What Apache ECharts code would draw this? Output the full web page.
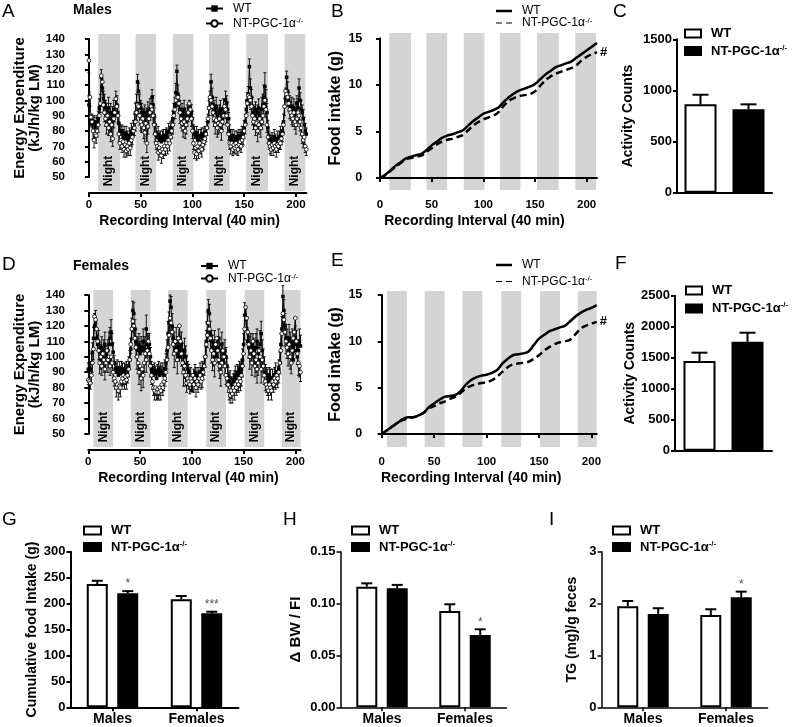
<!DOCTYPE html>
<html><head><meta charset="utf-8">
<script src="https://cdn.jsdelivr.net/npm/echarts@6/dist/echarts.min.js"></script>
<style>html,body{margin:0;padding:0;background:#fff}#c{width:792px;height:727px}</style>
</head><body><div id="c"></div>
<script>
const FONT = "'Liberation Sans', Arial, Helvetica, sans-serif";

// ---------- Panel A (Males energy expenditure), interval 0..210 ----------
const wtM = [97,84,85,87,84,86,82,84,86,88, 95,97,115,108,101,98,95,92,90,95, 88,92,86,90,94,90,101,97,92,85,
 80,78,80,76,79,75,78,76,74,77, 76,80,78,82,86,92,98,112,106,98, 95,92,90,88,92,86,90,93,88,95,
 92,102,97,90,84,78,76,78,74,76, 73,75,77,74,76,78,76,80,79,81, 82,88,92,97,105,119,104,98,94,90,
 92,88,94,90,86,92,89,95,91,92, 88,80,78,76,79,74,77,73,76,78, 75,77,79,78,82,86,95,100,112,102,
 97,94,92,96,90,88,92,94,90,88, 95,92,100,98,94,88,80,76,74,77, 72,75,73,76,74,77,75,76,79,78,
 82,86,94,100,104,122,108,102,96,92, 90,94,88,92,95,90,88,94,97,102, 109,100,92,82,76,74,72,75,73,76,
 74,72,75,73,76,78,77,80,86,96, 102,115,106,100,97,94,96,92,95,90, 93,98,95,108,100,94,92,88,84,80, 78];
const koM = [126,102,89,86,80,74,78,77,80,84, 90,98,116,112,97,92,88,84,90,82, 86,78,84,75,88,92,101,96,90,78,
 72,74,70,73,68,71,67,70,68,72, 69,74,76,80,82,86,92,97,96,90, 86,84,88,82,79,85,72,83,88,92,
 96,94,90,84,78,72,70,66,69,67, 64,68,66,70,68,72,70,74,72,76, 80,84,90,94,100,102,102,98,92,88,
 85,82,86,80,84,88,92,98,94,88, 80,72,66,69,65,70,67,72,69,68, 71,73,75,78,82,88,95,102,100,96,
 92,88,84,87,82,85,88,84,80,86, 90,96,94,90,84,78,72,70,72,68, 71,69,72,70,68,71,73,70,74,76,
 80,84,90,98,103,102,100,96,90,86, 88,82,85,80,84,88,82,86,90,96, 100,94,84,76,72,70,68,71,69,72,
 70,68,71,70,73,72,75,78,84,96, 106,104,102,98,94,92,90,88,92,86, 84,88,92,90,86,82,78,74,76,70, 68];
const errWTm = [6,5,4,4,5,4,4,5,4,5, 6,7,5,6,5,6,5,6,5,7, 5,6,5,6,6,5,5,6,5,5, 4,5,4,5,4,4,5,4,4,5,
 4,5,4,5,5,6,6,5,5,6, 5,6,5,6,5,6,5,6,5,6, 6,5,6,5,5,4,4,5,4,4, 4,5,4,4,5,4,4,5,4,5,
 5,5,6,5,6,4,6,5,6,5, 6,5,6,5,6,5,6,5,6,5, 5,4,5,4,4,5,4,4,5,4, 4,5,4,5,4,5,5,6,5,6,
 5,6,5,6,5,6,5,6,5,6, 6,5,6,5,5,4,4,5,4,4, 4,5,4,4,5,4,4,5,4,5, 5,5,6,5,5,5,6,5,6,5,
 6,5,6,5,6,5,6,8,7,8, 9,7,6,5,4,4,5,4,4,5, 4,4,5,4,4,5,4,5,5,5, 6,4,6,5,6,5,6,5,6,5,
 6,5,6,6,5,6,5,6,5,5, 4];
const errKOm = [8,6,4,4,5,5,4,5,4,5, 6,6,7,6,5,6,5,6,6,5, 6,5,6,5,6,6,5,6,5,5, 4,5,4,4,5,4,4,5,4,4,
 5,4,5,4,5,6,5,6,5,6, 6,5,6,7,6,5,6,5,6,5, 6,5,5,6,5,4,4,5,4,4, 5,4,4,5,4,4,5,4,5,4,
 5,6,5,6,5,6,5,6,7,6, 5,6,7,5,6,5,6,5,6,5, 5,4,4,5,4,4,5,4,4,5, 4,5,4,5,5,6,5,6,5,6,
 6,5,6,5,6,7,6,5,6,5, 6,5,6,5,5,4,4,5,4,4, 5,4,4,5,4,4,5,4,4,5, 5,6,5,6,6,5,6,5,6,5,
 6,5,6,7,6,5,6,5,6,5, 6,5,5,4,4,5,4,4,5,4, 4,5,4,4,5,4,4,5,5,6, 6,5,6,5,6,5,6,5,6,5,
 6,5,6,5,6,5,6,5,5,4, 4];
const nightM = [[9,30],[45,65],[81,101],[116,136],[152,173],[189,209]];

// ---------- Panel D (Females energy expenditure), interval 0..205 ----------
const wtF = [92,91,92,96,103,112,120,122,112,108, 110,103,100,106,98,104,108,100,97,104, 108,112,116,108,103,96,92,90,93,88,
 91,89,92,90,88,91,89,92,88,94, 98,105,118,130,128,118,110,106,104,108, 102,106,104,110,106,104,118,108,106,108,
 100,92,90,88,91,89,86,90,92,88, 91,89,90,88,92,96,104,115,122,136, 132,120,112,108,104,110,106,98,104,100,
 108,102,96,104,100,95,92,90,86,88, 78,82,86,90,88,84,88,86,90,88, 92,90,94,100,110,122,130,128,115,110,
 106,104,108,102,100,106,112,104,98,108, 102,96,104,100,94,88,84,86,82,80, 84,86,88,85,90,88,92,90,92,98,
 108,127,124,118,110,106,104,108,100,106, 104,98,106,110,102,98,108,115,104,98, 94,90,88,86,84,88,86,82,86,84,
 88,90,86,88,92,96,108,118,139,130, 120,112,110,106,112,108,104,110,98,104, 112,108,100,104,110,107];
const koF = [85,84,83,88,96,105,126,124,118,110, 104,96,100,94,102,98,92,96,104,98, 100,94,100,96,90,86,84,80,82,78,
 81,80,84,86,88,84,87,85,88,92, 98,108,118,123,120,112,106,100,96,90, 94,86,92,88,96,102,98,104,110,102,
 94,88,84,80,78,80,77,79,77,80, 78,82,80,84,86,90,98,106,114,125, 122,116,108,102,110,104,98,112,120,110,
 102,96,90,94,88,83,86,84,82,86, 84,88,82,86,80,84,82,86,88,84, 86,90,94,100,108,114,122,118,112,104,
 98,102,96,108,112,104,98,94,90,96, 104,100,94,88,86,82,78,75,78,76, 80,78,82,80,84,82,86,84,88,94,
 102,118,132,125,116,108,100,104,96,110, 102,94,98,92,96,104,100,92,98,94, 88,84,82,80,78,82,80,78,84,82,
 86,84,88,86,90,96,104,115,128,124, 116,110,106,102,108,100,96,104,112,116, 125,110,102,96,94,90];
const errWTf = [4,4,5,6,6,7,8,8,7,6, 7,6,8,7,6,7,8,7,6,7, 8,7,8,7,6,5,5,6,5,5, 6,5,5,6,5,5,6,5,5,6,
 6,7,7,6,7,6,8,7,8,7, 8,7,6,8,7,6,9,7,8,7, 6,5,5,6,5,5,6,5,5,6, 5,5,6,5,6,6,7,8,7,4,
 7,8,7,8,6,9,7,8,9,7, 8,7,9,8,7,6,5,5,6,5, 5,5,6,5,5,6,5,5,6,5, 5,6,6,7,7,7,7,6,8,7,
 8,7,9,7,8,7,6,8,7,8, 7,8,7,6,5,5,6,5,5,6, 5,5,6,5,5,6,5,6,6,7, 7,8,7,8,7,8,9,7,8,9,
 8,7,9,8,7,8,9,8,7,7, 6,5,5,6,5,5,6,5,6,5, 5,6,5,6,6,7,7,8,7,7, 8,9,8,7,9,8,7,8,9,8,
 8,9,8,7,8,7];
const errKOf = [3,3,4,5,6,7,8,7,7,6, 6,7,8,6,7,8,7,6,7,8, 7,6,7,6,6,5,5,6,5,6, 5,6,5,5,6,5,5,6,5,5,
 6,6,7,7,8,7,6,8,7,8, 7,8,7,8,6,7,8,7,9,8, 7,6,5,5,6,5,5,6,5,5, 6,5,5,6,5,6,6,7,7,8,
 7,8,7,9,8,7,9,8,8,7, 8,7,9,8,7,6,5,5,6,5, 5,6,5,5,6,5,5,6,5,5, 6,5,6,7,7,8,7,8,7,8,
 7,8,9,8,7,8,7,8,9,7, 8,7,6,6,5,5,6,5,5,6, 5,6,5,5,6,5,6,6,7,7, 8,7,8,7,8,9,8,7,8,9,
 8,7,8,9,8,7,8,9,8,7, 6,6,5,5,6,5,5,6,5,5, 6,5,6,6,7,7,8,8,7,8, 9,8,7,8,9,8,7,8,9,8,
 9,8,7,8,7,6];
const nightF = [[5,24],[41,60],[77,96],[114,133],[151,170],[187,205]];

// ---------- Panels B / E (cumulative food intake, g) ----------
const intakeXM = [0,5,10,15,20,25,30,35,40,45,50,55,60,65,70,75,80,85,90,95,100,105,110,115,120,125,130,135,140,145,150,155,160,165,170,175,180,185,190,195,200,205,210];
const intakeWTM = [0,0.35,0.8,1.3,1.7,2.1,2.3,2.45,2.6,3.0,3.5,3.9,4.3,4.55,4.7,4.9,5.1,5.6,6.1,6.5,6.9,7.1,7.3,7.6,8.2,8.7,9.1,9.4,9.6,9.8,10.1,10.6,11.1,11.5,11.9,12.1,12.3,12.5,12.9,13.3,13.7,14.1,14.5];
const intakeKOM = [0,0.3,0.75,1.2,1.6,2.0,2.15,2.3,2.4,2.8,3.2,3.6,3.9,4.1,4.2,4.4,4.6,5.1,5.6,6.0,6.3,6.5,6.7,7.1,7.8,8.3,8.6,8.8,8.9,9.0,9.3,9.9,10.5,10.9,11.2,11.4,11.6,11.8,12.1,12.6,13.0,13.3,13.5];
const intakeXF = [0,5,10,15,20,25,30,35,40,45,50,55,60,65,70,75,80,85,90,95,100,105,110,115,120,125,130,135,140,145,150,155,160,165,170,175,180,185,190,195,200,205];
const intakeWTF = [0,0.4,0.8,1.2,1.6,1.8,1.8,2.0,2.3,2.9,3.3,3.7,4.0,4.1,4.2,4.6,5.3,5.8,6.1,6.3,6.4,6.6,6.9,7.6,8.1,8.5,8.6,8.7,8.9,9.6,10.3,10.7,11.1,11.3,11.5,11.7,12.2,12.7,13.1,13.4,13.6,13.9];
const intakeKOF = [0,0.4,0.8,1.2,1.5,1.7,1.8,2.0,2.3,2.8,3.0,3.3,3.5,3.8,4.0,4.4,4.9,5.2,5.35,5.5,5.6,5.8,6.2,6.7,7.2,7.5,7.6,7.7,7.8,8.1,8.5,9.0,9.4,9.7,9.9,10.0,10.2,10.8,11.4,11.7,11.9,12.1];

// ---------- Bar panels ----------
const actMales = {wt:[864], wtErr:[94], ko:[815], koErr:[49]};
const actFemales = {wt:[1447], wtErr:[134], ko:[1758], koErr:[145]};
const sexCats = ['Males', 'Females'];
const foodWT = [237.7, 208.2], foodWTErr = [6.3, 6.4], foodKO = [219.8, 181.2], foodKOErr = [4.2, 3.1], foodSig = ['*', '***'];
const bwWT = [0.1163, 0.0928], bwWTErr = [0.0032, 0.0065], bwKO = [0.1147, 0.0697], bwKOErr = [0.0033, 0.0055], bwSig = ['', '*'];
const tgWT = [1.95, 1.78], tgWTErr = [0.10, 0.11], tgKO = [1.80, 2.12], tgKOErr = [0.11, 0.11], tgSig = ['', '*'];
const timeTicks = [0, 50, 100, 150, 200];

// ---------- helpers ----------
const pairs = (xs, ys) => ys.map((v, i) => [xs ? xs[i] : i, v]);
const errRows = (ys, es) => ys.map((v, i) => [i, v, es[i]]);
const barRows = (ys, es, slot) => ys.map((v, i) => [i, v, es[i], slot]);
const black = '#000';

function bandRender(withLabel) {
  return function (params, api) {
    const p0 = api.coord([api.value(0), 1]);
    const p1 = api.coord([api.value(1), 0]);
    const ch = [{type: 'rect', shape: {x: p0[0], y: p0[1], width: p1[0] - p0[0], height: p1[1] - p0[1]}, style: {fill: '#d4d4d4'}}];
    if (withLabel) ch.push({type: 'text', x: (p0[0] + p1[0]) / 2, y: p1[1] - 20, rotation: Math.PI / 2,
      style: {text: 'Night', textAlign: 'center', textVerticalAlign: 'middle', fontSize: 12, fontWeight: 'bold', fontFamily: FONT, fill: black}});
    return {type: 'group', children: ch};
  };
}
function errRender(dir) {
  return function (params, api) {
    const x = api.value(0), y = api.value(1), e = api.value(2);
    const p0 = api.coord([x, y]), p1 = api.coord([x, y + dir * e]);
    return {type: 'group', children: [
      {type: 'line', shape: {x1: p0[0], y1: p0[1], x2: p1[0], y2: p1[1]}, style: {stroke: black, lineWidth: 0.9}},
      {type: 'line', shape: {x1: p1[0] - 1.5, y1: p1[1], x2: p1[0] + 1.5, y2: p1[1]}, style: {stroke: black, lineWidth: 0.9}}
    ]};
  };
}
function barErrRender(barWidth, barGap, cap, lw, sig) {
  return function (params, api) {
    const cat = api.value(0), y = api.value(1), e = api.value(2), slot = api.value(3);
    const lay = api.barLayout({barWidth: barWidth, barGap: barGap, count: 2});
    const base = api.coord([cat, y]);
    const x = base[0] + lay[slot].offsetCenter;
    const top = api.coord([cat, y + e])[1];
    const ch = [
      {type: 'line', shape: {x1: x, y1: base[1], x2: x, y2: top}, style: {stroke: black, lineWidth: lw}},
      {type: 'line', shape: {x1: x - cap, y1: top, x2: x + cap, y2: top}, style: {stroke: black, lineWidth: lw}}
    ];
    const s = (sig && slot === 1) ? sig[cat] : '';
    if (s) ch.push({type: 'text', x: x, y: top - 1, style: {text: s, textAlign: 'center', textVerticalAlign: 'bottom', fontSize: 12, fontFamily: FONT, fill: '#555'}});
    return {type: 'group', children: ch};
  };
}

function timeX(gridIndex, max, offset, shift) {
  return {type: 'value', gridIndex, min: 0, max, offset,
    axisLine: {show: true, lineStyle: {color: black, width: 2}},
    axisTick: {show: true, length: 4, lineStyle: {color: black, width: 2}, customValues: timeTicks},
    axisLabel: {show: true, color: black, fontFamily: FONT, fontWeight: 'bold', fontSize: 11.5, margin: 6, customValues: timeTicks},
    splitLine: {show: false},
    name: 'Recording Interval (40 min)', nameLocation: 'middle', nameGap: 21,
    nameTextStyle: {color: black, fontFamily: FONT, fontWeight: 'bold', fontSize: 14, padding: [0, shift * 2, 0, 0]}};
}
function hiddenX(gridIndex, max) { return {type: 'value', gridIndex, min: 0, max, show: false}; }
function hiddenY(gridIndex) { return {type: 'value', gridIndex, min: 0, max: 1, show: false}; }
function valY(gridIndex, min, max, interval, offset, fontSize, name, nameGap, nameSize, lw, fmt) {
  return {type: 'value', gridIndex, min, max, interval, offset,
    axisLine: {show: true, lineStyle: {color: black, width: lw}},
    axisTick: {show: true, length: 4, lineStyle: {color: black, width: lw}},
    axisLabel: {show: true, color: black, fontFamily: FONT, fontWeight: 'bold', fontSize, margin: 5, formatter: fmt || (v => String(v))},
    splitLine: {show: false},
    name, nameLocation: 'middle', nameGap,
    nameTextStyle: {color: black, fontFamily: FONT, fontWeight: 'bold', fontSize: nameSize, lineHeight: 15, align: 'center'}};
}
function catX(gridIndex, cats, showLabels, lw) {
  return {type: 'category', gridIndex, data: cats,
    axisLine: {show: true, lineStyle: {color: black, width: lw}},
    axisTick: {show: showLabels, alignWithLabel: true, length: 4, lineStyle: {color: black, width: lw}},
    axisLabel: {show: showLabels, color: black, fontFamily: FONT, fontWeight: 'bold', fontSize: 14, margin: 5},
    splitLine: {show: false}};
}
const legendFmt = n => n.indexOf('WT') === 0 ? 'WT' : 'NT-PGC-1α{s|-/-}';
function mkLegend(data, left, top, bold, lh, gap, w, h) {
  return {show: true, orient: 'vertical', left, top, padding: 0, itemGap: gap, itemWidth: w, itemHeight: h,
    selectedMode: false, data, formatter: legendFmt,
    textStyle: {color: black, fontFamily: FONT, fontSize: bold ? 13 : 12, fontWeight: bold ? 'bold' : 'normal', lineHeight: lh, padding: [0, 0, 0, 5],
      rich: {s: {fontSize: 8, verticalAlign: 'top', lineHeight: 8, fontFamily: FONT, color: black, fontWeight: bold ? 'bold' : 'normal'}}}};
}
const boxLegend = (wt, ko) => [
  {name: wt, icon: 'rect', itemStyle: {color: '#fff', borderColor: black, borderWidth: 2}},
  {name: ko, icon: 'rect', itemStyle: {color: black, borderColor: black, borderWidth: 2}}];
const lineLegend = (wt, ko) => [
  {name: wt, icon: 'rect', itemStyle: {color: black, borderWidth: 0}},
  {name: ko, icon: 'path://M0,0h6v1h-6z M10,0h6v1h-6z', itemStyle: {color: black, borderWidth: 0}}];

function eeSeries(tag, xi, bi, wt, ko, ewt, eko, night) {
  return [
    {type: 'custom', name: 'band' + tag, xAxisIndex: bi, yAxisIndex: bi, data: night, renderItem: bandRender(true), silent: true, z: 0},
    {type: 'custom', name: 'eWT' + tag, xAxisIndex: xi, yAxisIndex: xi, data: errRows(wt, ewt), renderItem: errRender(1), silent: true, z: 3},
    {type: 'custom', name: 'eKO' + tag, xAxisIndex: xi, yAxisIndex: xi, data: errRows(ko, eko), renderItem: errRender(-1), silent: true, z: 3},
    {type: 'line', name: 'WT_' + tag, xAxisIndex: xi, yAxisIndex: xi, data: pairs(null, wt), symbol: 'rect', symbolSize: 3.5,
      lineStyle: {color: black, width: 0.9}, itemStyle: {color: black}, z: 4},
    {type: 'line', name: 'KO_' + tag, xAxisIndex: xi, yAxisIndex: xi, data: pairs(null, ko), symbol: 'circle', symbolSize: 3.8,
      lineStyle: {color: black, width: 0.9}, itemStyle: {color: '#fff', borderColor: black, borderWidth: 0.8}, z: 5}
  ];
}
function intakeSeries(tag, xi, bi, xs, wt, ko, night) {
  return [
    {type: 'custom', name: 'band' + tag, xAxisIndex: bi, yAxisIndex: bi, data: night, renderItem: bandRender(false), silent: true, z: 0},
    {type: 'line', name: 'WT_' + tag, xAxisIndex: xi, yAxisIndex: xi, data: pairs(xs, wt), symbol: 'none', smooth: 0.3,
      lineStyle: {color: black, width: 2.5}, itemStyle: {color: black}, z: 4},
    {type: 'line', name: 'KO_' + tag, xAxisIndex: xi, yAxisIndex: xi, data: pairs(xs, ko), symbol: 'none', smooth: 0.3,
      lineStyle: {color: black, width: 2.5, type: [7, 4]}, itemStyle: {color: black}, z: 4,
      endLabel: {show: true, formatter: '#', color: black, fontFamily: FONT, fontWeight: 'bold', fontSize: 13, distance: 3}}
  ];
}
function barSeries(tag, idx, wt, wtErr, ko, koErr, bw, gap, cap, lw, sig) {
  return [
    {type: 'bar', name: 'WT_' + tag, xAxisIndex: idx, yAxisIndex: idx, data: wt, barWidth: bw, barGap: gap,
      itemStyle: {color: '#fff', borderColor: black, borderWidth: 2}, z: 2},
    {type: 'bar', name: 'KO_' + tag, xAxisIndex: idx, yAxisIndex: idx, data: ko, barWidth: bw, barGap: gap,
      itemStyle: {color: black, borderColor: black, borderWidth: 2}, z: 2},
    {type: 'custom', name: 'err' + tag, xAxisIndex: idx, yAxisIndex: idx,
      data: barRows(wt, wtErr, 0).concat(barRows(ko, koErr, 1)), renderItem: barErrRender(bw, gap, cap, lw, sig), silent: true, z: 5}
  ];
}

const grids = [
  {left: 88.9, top: 39, width: 217.4, height: 138},    // 0 A
  {left: 88.9, top: 34, width: 217.4, height: 157},    // 1 A bands
  {left: 380, top: 38.3, width: 217, height: 139.7},   // 2 B
  {left: 380, top: 33, width: 217, height: 157},       // 3 B bands
  {left: 677, top: 39.3, width: 95, height: 153.4},    // 4 C
  {left: 88.3, top: 295, width: 212.2, height: 139},   // 5 D
  {left: 88.3, top: 290, width: 212.2, height: 157},   // 6 D bands
  {left: 381.7, top: 295, width: 215, height: 139},    // 7 E
  {left: 381.7, top: 291, width: 215, height: 156},    // 8 E bands
  {left: 675, top: 295.7, width: 97, height: 155},     // 9 F
  {left: 70.5, top: 551.7, width: 168, height: 155.6}, // 10 G
  {left: 340.5, top: 551.7, width: 166, height: 155.6},// 11 H
  {left: 601.5, top: 551.7, width: 166, height: 155.6} // 12 I
].map(g => Object.assign({outerBoundsMode: 'none', containLabel: false}, g));

const xAxes = [
  timeX(0, 210, 16, 8), hiddenX(1, 210), timeX(2, 210, 15, 14), hiddenX(3, 210),
  catX(4, ['Activity'], false, 2),
  timeX(5, 205, 16, 6), hiddenX(6, 205), timeX(7, 205, 16, 18), hiddenX(8, 205),
  catX(9, ['Activity'], false, 2),
  catX(10, sexCats, true, 2), catX(11, sexCats, true, 1.5), catX(12, sexCats, true, 1.5)
];
const yAxes = [
  valY(0, 50, 140, 10, 18.9, 11.5, 'Energy Expenditure\n(kJ/h/kg LM)', 18, 15, 2),
  hiddenY(1),
  valY(2, 0, 15, 5, 12.7, 12.5, 'Food intake (g)', 24, 16, 2),
  hiddenY(3),
  valY(4, 0, 1500, 500, 0, 13, 'Activity Counts', 41, 14, 2),
  valY(5, 50, 140, 10, 18.3, 11.5, 'Energy Expenditure\n(kJ/h/kg LM)', 18, 15, 2),
  hiddenY(6),
  valY(7, 0, 15, 5, 14.4, 12.5, 'Food intake (g)', 24, 16, 2),
  hiddenY(8),
  valY(9, 0, 2500, 500, 0, 13, 'Activity Counts', 35, 14, 2),
  valY(10, 0, 300, 50, 0, 13, 'Cumulative food Intake (g)', 30, 14, 2),
  valY(11, 0, 0.15, 0.05, 0, 13, 'Δ BW / FI', 37, 15, 1.5, v => v.toFixed(2)),
  valY(12, 0, 3, 1, 0, 13, 'TG (mg)/g feces', 22, 14, 1.5)
];

const series = [].concat(
  eeSeries('A', 0, 1, wtM, koM, errWTm, errKOm, nightM),
  intakeSeries('B', 2, 3, intakeXM, intakeWTM, intakeKOM, nightM),
  barSeries('C', 4, actMales.wt, actMales.wtErr, actMales.ko, actMales.koErr, 32, '50%', 8, 2, null),
  eeSeries('D', 5, 6, wtF, koF, errWTf, errKOf, nightF),
  intakeSeries('E', 7, 8, intakeXF, intakeWTF, intakeKOF, nightF),
  barSeries('F', 9, actFemales.wt, actFemales.wtErr, actFemales.ko, actFemales.koErr, 32, '50%', 8, 2, null),
  barSeries('G', 10, foodWT, foodWTErr, foodKO, foodKOErr, 21, '45%', 5.5, 2, foodSig),
  barSeries('H', 11, bwWT, bwWTErr, bwKO, bwKOErr, 21, '45%', 5.5, 2, bwSig),
  barSeries('I', 12, tgWT, tgWTErr, tgKO, tgKOErr, 21, '45%', 5.5, 2, tgSig)
);
series.sort((a, b) => (a.z || 0) - (b.z || 0));

const legends = [
  mkLegend(['WT_A', 'KO_A'], 205, 2, false, 13, 2, 17, 8),
  mkLegend(lineLegend('WT_B', 'KO_B'), 496, 5, false, 12, 0, 16, 2.5),
  mkLegend(boxLegend('WT_C', 'KO_C'), 684, 26, true, 15, 2.5, 16, 8),
  mkLegend(['WT_D', 'KO_D'], 200, 260, false, 12, 0.5, 17, 8),
  mkLegend(lineLegend('WT_E', 'KO_E'), 496, 258, false, 14, 2.5, 16, 2.5),
  mkLegend(boxLegend('WT_F', 'KO_F'), 685, 283, true, 15, 3, 16, 8),
  mkLegend(boxLegend('WT_G', 'KO_G'), 83, 523, true, 15, 1.5, 17, 8),
  mkLegend(boxLegend('WT_H', 'KO_H'), 351, 523, true, 15, 1.5, 17, 8),
  mkLegend(boxLegend('WT_I', 'KO_I'), 612, 523, true, 15, 1.5, 17, 8)
];

const letter = (t, left, top) => ({text: t, left, top, padding: 0, textStyle: {fontFamily: FONT, fontSize: 19, fontWeight: 'normal', color: black}});
const titles = [
  letter('A', 2, 2), letter('B', 331, 2), letter('C', 613, 2),
  letter('D', 2, 255), letter('E', 331, 251), letter('F', 615, 254),
  letter('G', 2, 510), letter('H', 283, 510), letter('I', 549, 510),
  {text: 'Males', left: 73, top: 3, padding: 0, textStyle: {fontFamily: FONT, fontSize: 14, fontWeight: 'bold', color: black}},
  {text: 'Females', left: 73, top: 259, padding: 0, textStyle: {fontFamily: FONT, fontSize: 14, fontWeight: 'bold', color: black}}
];

const chart = echarts.init(document.getElementById('c'), null, {renderer: 'canvas'});
chart.setOption({
  animation: false,
  backgroundColor: '#fff',
  title: titles,
  legend: legends,
  grid: grids,
  xAxis: xAxes,
  yAxis: yAxes,
  series
});
</script></body></html>
